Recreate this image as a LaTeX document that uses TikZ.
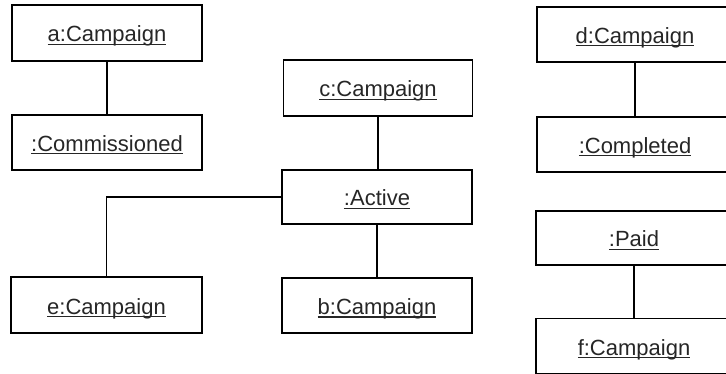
\documentclass[tikz,border=0pt]{standalone}
\usepackage{fontspec}
\setmainfont{Liberation Sans}
\newcommand\ulntext[1]{\setbox0\hbox{#1}\rlap{\rule[-3pt]{\wd0}{1.1pt}}\box0}
\tikzset{
  obj/.style={draw, line width=1.2pt, minimum width=190pt, minimum height=55pt,
    inner sep=0pt, text height=18pt, text depth=0pt,
    font=\fontsize{22}{26}\selectfont, text=black!85},
  robj/.style={obj, minimum width=196pt},
  link/.style={line width=1.2pt}
}
\begin{document}
\begin{tikzpicture}[x=1pt,y=-1pt]
\useasboundingbox (0,0) rectangle (726,374);
\clip (0,0) rectangle (726,374);
\node[obj, minimum height=56pt] (a) at (107,33) {\ulntext{a:Campaign}};
\node[obj] (comm) at (107,142.5) {\ulntext{:Commissioned}};
\node[obj, minimum width=189pt, minimum height=56pt] (c) at (378,88) {\ulntext{c:Campaign}};
\node[obj, minimum height=54pt] (act) at (377,197) {\ulntext{:Active}};
\node[obj, minimum width=191pt, minimum height=56pt] (e) at (106.5,305) {\ulntext{e:Campaign}};
\node[obj] (b) at (377,305.5) {\ulntext{b:Campaign}};
\node[robj] (d) at (635,34.5) {\ulntext{d:Campaign}};
\node[robj] (compl) at (635,144.5) {\ulntext{:Completed}};
\node[robj, minimum height=54pt] (paid) at (634,238) {\ulntext{:Paid}};
\node[robj] (f) at (634,346) {\ulntext{f:Campaign}};
\draw[link] (a) -- (comm);
\draw[link] (c) -- (c |- act.north);
\draw[link] (act) -- (b);
\draw[link] (e.north) |- (act.west);
\draw[link] (d) -- (compl);
\draw[link] (paid) -- (f);
\end{tikzpicture}
\end{document}
